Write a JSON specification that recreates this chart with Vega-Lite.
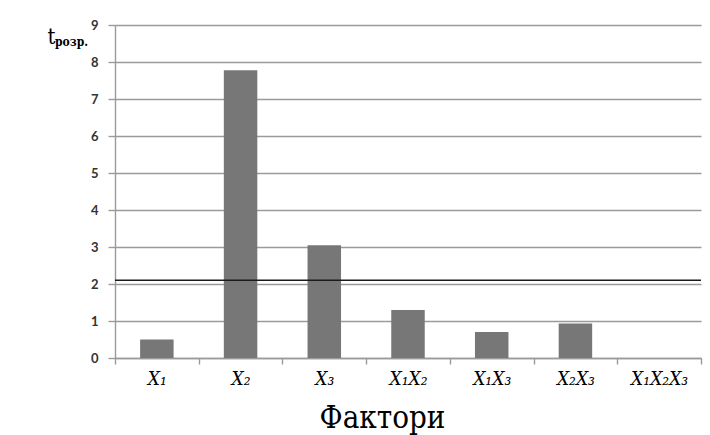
{
  "$schema": "https://vega.github.io/schema/vega-lite/v6.json",
  "autosize": "none",
  "width": 586,
  "height": 333,
  "padding": {"left": 115, "top": 25, "right": 9, "bottom": 77},
  "config": {
    "view": {"stroke": null}
  },
  "title": {
    "text": "розр.",
    "anchor": "start",
    "frame": "group",
    "orient": "top",
    "font": "DejaVu Serif Condensed",
    "fontSize": 12,
    "fontWeight": "bold",
    "color": "#000000",
    "baseline": "alphabetic",
    "offset": 0,
    "dx": -60,
    "dy": 39
  },
  "datasets": {
    "factors": [
      {"factor": "X₁", "t": 0.5},
      {"factor": "X₂", "t": 7.78},
      {"factor": "X₃", "t": 3.05},
      {"factor": "X₁X₂", "t": 1.3},
      {"factor": "X₁X₃", "t": 0.7},
      {"factor": "X₂X₃", "t": 0.93},
      {"factor": "X₁X₂X₃", "t": 0}
    ],
    "threshold": [{"threshold": 2.1}]
  },
  "encoding": {
    "y": {
      "type": "quantitative",
      "scale": {"domain": [0, 9], "nice": false},
      "axis": {
        "values": [0, 1, 2, 3, 4, 5, 6, 7, 8, 9],
        "grid": true,
        "gridOpacity": 1,
        "gridColor": "#9a9a9a",
        "gridWidth": 1.4,
        "title": "t",
        "titleAngle": 0,
        "titleFont": "DejaVu Serif Condensed",
        "titleFontSize": 22,
        "titleFontWeight": "normal",
        "titleColor": "#000000",
        "titleX": -68,
        "titleY": 18,
        "titleAlign": "left",
        "titleBaseline": "alphabetic",
        "labelFont": "Lato",
        "labelFontSize": 13,
        "labelFontWeight": "bold",
        "labelColor": "#333333",
        "labelPadding": 10,
        "labelOverlap": false,
        "tickSize": 7,
        "tickWidth": 1.4,
        "tickColor": "#9a9a9a",
        "domainColor": "#9a9a9a",
        "domainWidth": 1.4
      }
    }
  },
  "layer": [
    {
      "data": {"name": "factors"},
      "mark": {"type": "bar", "color": "#777777", "width": {"band": 0.4}},
      "encoding": {
        "x": {
          "field": "factor",
          "type": "nominal",
          "sort": null,
          "scale": {"paddingInner": 0, "paddingOuter": 0},
          "axis": {
            "title": "Фактори",
            "titleFont": "DejaVu Serif Condensed",
            "titleFontSize": 31,
            "titleFontWeight": "normal",
            "titleColor": "#000000",
            "titleX": 267,
            "titleY": 69,
            "titleAlign": "center",
            "titleBaseline": "alphabetic",
            "labelAngle": 0,
            "labelFont": "DejaVu Serif Condensed",
            "labelFontStyle": "italic",
            "labelFontSize": 19,
            "labelColor": "#000000",
            "labelPadding": 5,
            "tickBand": "extent",
            "tickSize": 6,
            "tickWidth": 1.4,
            "tickColor": "#9a9a9a",
            "domainColor": "#9a9a9a",
            "domainWidth": 1.4,
            "grid": false
          }
        },
        "y": {"field": "t"}
      }
    },
    {
      "data": {"name": "threshold"},
      "mark": {"type": "rule", "color": "#1a1a1a", "strokeWidth": 1.5},
      "encoding": {"y": {"field": "threshold"}}
    }
  ]
}
